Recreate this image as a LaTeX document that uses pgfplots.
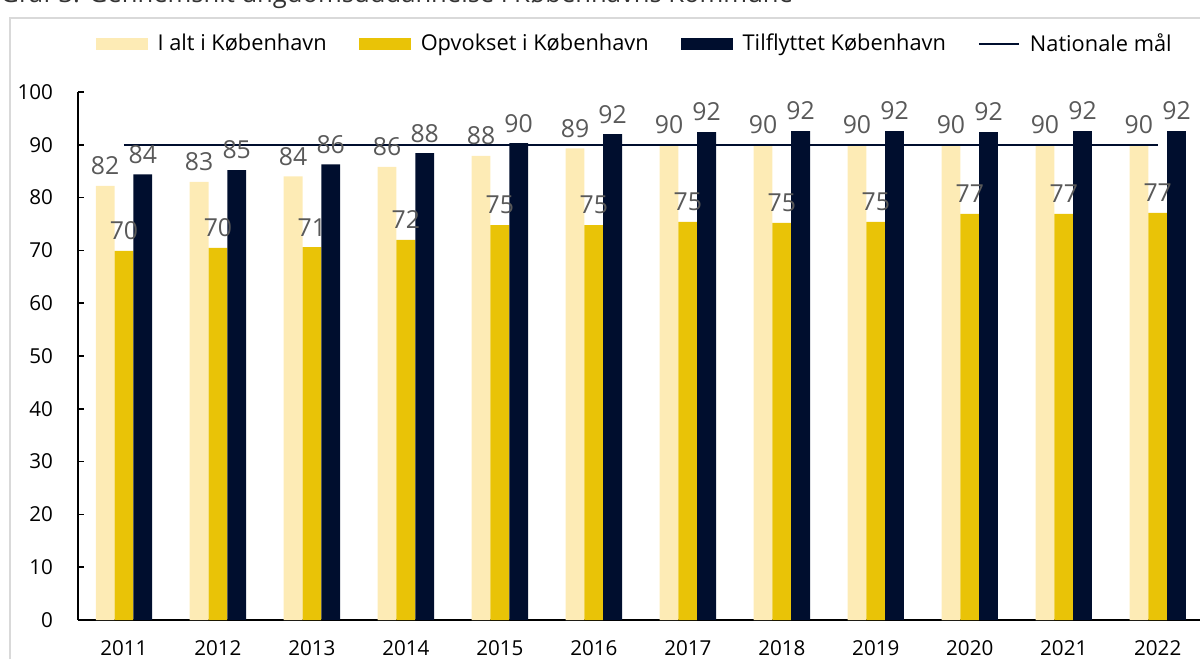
\documentclass[border=0pt]{standalone}
\usepackage{fontspec}
\setmainfont{Open Sans}
\usepackage{pgfplots}
\pgfplotsset{compat=1.18}

\definecolor{ialt}{HTML}{FDEBB5}
\definecolor{opv}{HTML}{E9C307}
\definecolor{tilf}{HTML}{000E2E}
\definecolor{lbl}{HTML}{595959}
\definecolor{frame}{HTML}{D9D9D9}

\newcommand{\chartfont}{\fontsize{10.3}{12}\selectfont}
\newcommand{\legfont}{\fontsize{10.9}{12}\selectfont}
\newcommand{\lblfont}{\fontsize{12.4}{14}\selectfont}

\pgfplotsset{
  barlabels/.style={
    point meta=explicit symbolic,
    nodes near coords,
    nodes near coords style={font=\lblfont, text=lbl, anchor=center,
        yshift=10pt, xshift=#1},
  },
}

\begin{document}
\begin{tikzpicture}
\useasboundingbox (0,0) rectangle (600pt,329.5pt);
\clip (0,0) rectangle (600pt,329.5pt);

% cut-off title and chart frame
\node[anchor=base west, inner sep=0pt, text=black!80, font=\fontsize{12.8}{15}\selectfont]
  at (0pt,328pt) {Graf 3. Gennemsnit ungdomsuddannelse i Københavns Kommune};
\draw[frame, line width=1pt] (5pt,0pt) -- (5pt,320.5pt) -- (600pt,320.5pt);

\begin{axis}[
    at={(39pt,19.5pt)}, anchor=south west,
    scale only axis, width=561pt, height=264pt,
    xmin=-0.489, xmax=11.45,
    ymin=0, ymax=100,
    axis x line*=bottom, axis y line*=left,
    axis line style={line width=0.75pt, black},
    ytick={0,10,...,100},
    xtick={0,...,11},
    xticklabels={2011,2012,2013,2014,2015,2016,2017,2018,2019,2020,2021,2022},
    x tick style={draw=none},
    y tick style={line width=0.75pt, black},
    tick align=inside, major tick length=3pt,
    tick label style={font=\chartfont, black},
    yticklabel style={xshift=-9pt},
    xticklabel style={yshift=-6.5pt},
    /pgf/number format/assume math mode=true,
    clip=false,
    legend columns=4,
    legend style={at={(0.497,1.091)}, anchor=center, draw=none, fill=none,
        font=\legfont, text=black,
        /tikz/every odd column/.append style={column sep=3pt},
        /tikz/every even column/.append style={column sep=14pt}},
    legend cell align=left,
]

\addplot[ybar, bar width=0.2, bar shift=-0.2, fill=ialt, draw=none, barlabels=-9.4pt,
    legend image code/.code={\fill[ialt] (0pt,-3pt) rectangle (26pt,3pt);}]
  coordinates {
  (0,82.2)[82] (1,83.0)[83] (2,84.0)[84] (3,85.8)[86] (4,87.9)[88] (5,89.3)[89]
  (6,90.0)[90] (7,90.0)[90] (8,90.0)[90] (9,90.0)[90] (10,90.0)[90] (11,90.0)[90]
  };
\addlegendentry{I alt i København}

\addplot[ybar, bar width=0.2, bar shift=0, fill=opv, draw=none, barlabels=0pt,
    legend image code/.code={\fill[opv] (0pt,-3pt) rectangle (26pt,3pt);}]
  coordinates {
  (0,69.9)[70] (1,70.5)[70] (2,70.6)[71] (3,72.0)[72] (4,74.8)[75] (5,74.8)[75]
  (6,75.4)[75] (7,75.2)[75] (8,75.4)[75] (9,76.9)[77] (10,76.9)[77] (11,77.1)[77]
  };
\addlegendentry{Opvokset i København}

\addplot[ybar, bar width=0.2, bar shift=0.2, fill=tilf, draw=none, barlabels=9.4pt,
    legend image code/.code={\fill[tilf] (0pt,-3pt) rectangle (26pt,3pt);}]
  coordinates {
  (0,84.4)[84] (1,85.2)[85] (2,86.3)[86] (3,88.4)[88] (4,90.3)[90] (5,92.0)[92]
  (6,92.4)[92] (7,92.6)[92] (8,92.6)[92] (9,92.4)[92] (10,92.6)[92] (11,92.6)[92]
  };
\addlegendentry{Tilflyttet København}

\addplot[sharp plot, tilf, line width=1pt, mark=none,
    legend image code/.code={\draw[tilf, line width=1pt] (0pt,0pt) -- (20pt,0pt);}]
  coordinates {(0,90) (11,90)};
\addlegendentry{Nationale mål}

\end{axis}
\end{tikzpicture}
\end{document}
